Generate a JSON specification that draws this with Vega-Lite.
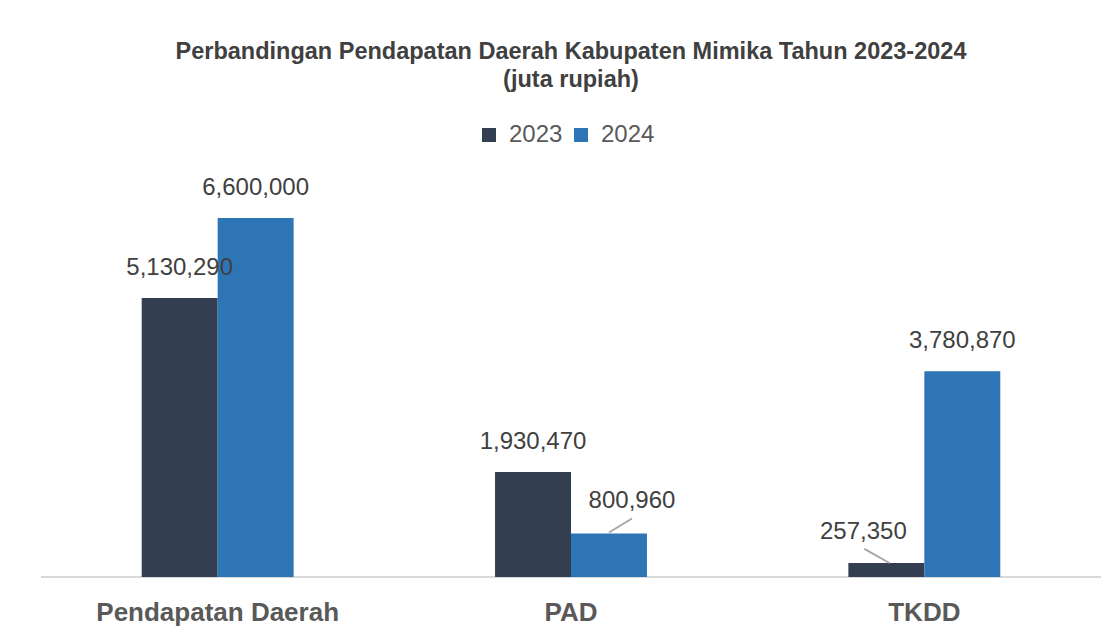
{
  "$schema": "https://vega.github.io/schema/vega-lite/v6.json",
  "width": 1060,
  "height": 359,
  "autosize": {"type": "none"},
  "padding": {"left": 41, "top": 218, "right": 19, "bottom": 61},
  "background": "white",
  "title": {
    "text": ["Perbandingan Pendapatan Daerah Kabupaten Mimika Tahun 2023-2024", "(juta rupiah)"],
    "anchor": "middle",
    "frame": "group",
    "font": "Liberation Sans",
    "fontSize": 23.5,
    "fontWeight": "bold",
    "color": "#404040",
    "lineHeight": 28,
    "offset": 32
  },
  "config": {
    "view": {"stroke": null},
    "font": "Liberation Sans"
  },
  "data": {
    "values": [
      {"kategori": "Pendapatan Daerah", "tahun": "2023", "nilai": 5130290},
      {"kategori": "Pendapatan Daerah", "tahun": "2024", "nilai": 6600000},
      {"kategori": "PAD", "tahun": "2023", "nilai": 1930470},
      {"kategori": "PAD", "tahun": "2024", "nilai": 800960},
      {"kategori": "TKDD", "tahun": "2023", "nilai": 257350},
      {"kategori": "TKDD", "tahun": "2024", "nilai": 3780870}
    ]
  },
  "encoding": {
    "y": {
      "field": "nilai",
      "type": "quantitative",
      "scale": {"domain": [0, 6600000], "nice": false, "zero": true},
      "axis": null
    }
  },
  "layer": [
    {
      "mark": {"type": "rule", "color": "#d9d9d9", "strokeWidth": 2},
      "encoding": {"y": {"datum": 0}}
    },
    {
      "encoding": {
        "x": {
          "field": "kategori",
          "type": "nominal",
          "sort": ["Pendapatan Daerah", "PAD", "TKDD"],
          "scale": {"paddingInner": 0.57, "paddingOuter": 0.285},
          "axis": {
            "title": null,
            "labelAngle": 0,
            "ticks": false,
            "tickSize": 0,
            "domain": false,
            "labelFont": "Liberation Sans",
            "labelFontSize": 26,
            "labelFontWeight": "bold",
            "labelColor": "#595959",
            "labelPadding": 22,
            "labelLimit": 0
          }
        },
        "xOffset": {
          "field": "tahun",
          "type": "nominal",
          "scale": {"paddingInner": 0, "paddingOuter": 0}
        }
      },
      "layer": [
        {
          "mark": {"type": "bar"},
          "encoding": {
            "color": {
              "field": "tahun",
              "type": "nominal",
              "scale": {"domain": ["2023", "2024"], "range": ["#333F50", "#2E75B6"]},
              "legend": {
                "title": null,
                "orient": "none",
                "direction": "horizontal",
                "legendX": 436,
                "legendY": -95,
                "symbolType": "square",
                "symbolSize": 196,
                "symbolStrokeWidth": 0,
                "labelFont": "Liberation Sans",
                "labelFontSize": 24,
                "labelColor": "#595959",
                "labelOffset": 8,
                "columnPadding": 6
              }
            }
          }
        },
        {
          "transform": [{"filter": "!((datum.kategori === 'PAD' && datum.tahun === '2024') || (datum.kategori === 'TKDD' && datum.tahun === '2023'))"}],
          "mark": {"type": "text", "dy": -23, "baseline": "alphabetic", "align": "center", "fontSize": 24, "font": "Liberation Sans", "color": "#404040"},
          "encoding": {"text": {"field": "nilai", "type": "quantitative", "format": ","}}
        },
        {
          "transform": [{"filter": "datum.kategori === 'PAD' && datum.tahun === '2024'"}],
          "mark": {"type": "text", "dx": 23, "dy": -25, "baseline": "alphabetic", "align": "center", "fontSize": 24, "font": "Liberation Sans", "color": "#404040"},
          "encoding": {"text": {"field": "nilai", "type": "quantitative", "format": ","}}
        },
        {
          "transform": [{"filter": "datum.kategori === 'TKDD' && datum.tahun === '2023'"}],
          "mark": {"type": "text", "dx": -23, "dy": -24, "baseline": "alphabetic", "align": "center", "fontSize": 24, "font": "Liberation Sans", "color": "#404040"},
          "encoding": {"text": {"field": "nilai", "type": "quantitative", "format": ","}}
        },
        {
          "transform": [{"filter": "datum.kategori === 'PAD' && datum.tahun === '2024'"}],
          "mark": {"type": "point", "shape": "M0,-0.04L1,-0.65", "size": 2116, "filled": false, "color": "#a6a6a6", "strokeWidth": 2, "opacity": 1},
          "encoding": {}
        },
        {
          "transform": [{"filter": "datum.kategori === 'TKDD' && datum.tahun === '2023'"}],
          "mark": {"type": "point", "shape": "M-1,-0.64L0.14,0", "size": 1936, "filled": false, "color": "#a6a6a6", "strokeWidth": 2, "opacity": 1},
          "encoding": {}
        }
      ]
    }
  ]
}
